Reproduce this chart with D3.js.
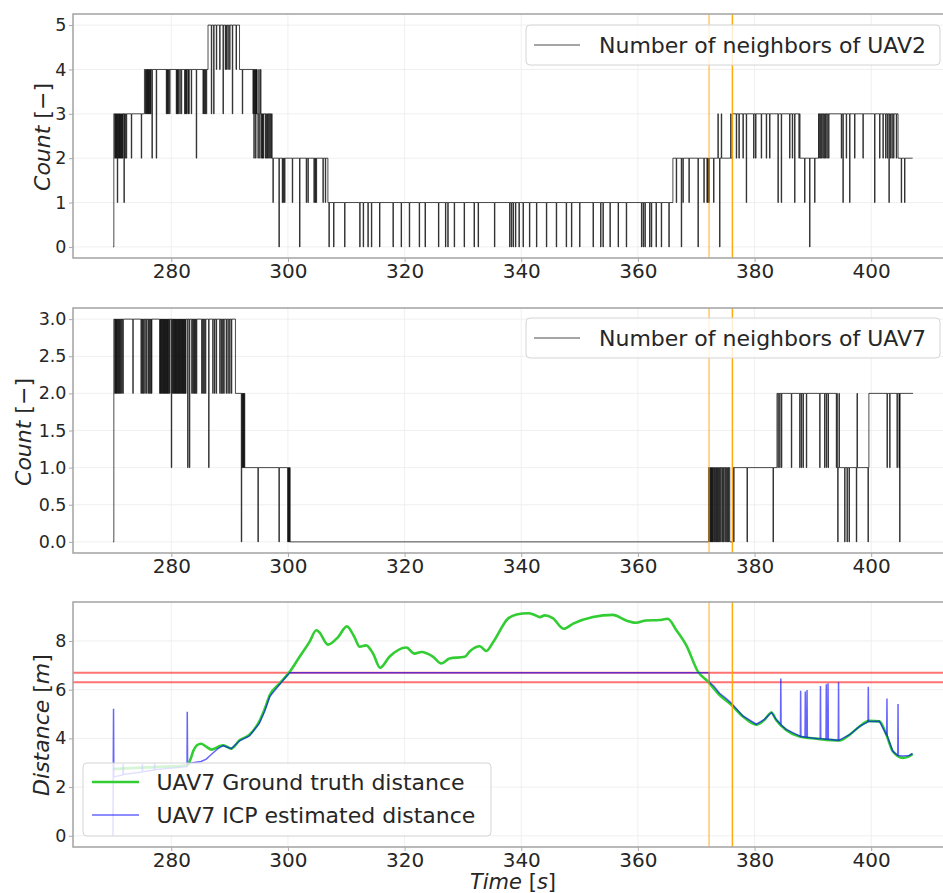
<!DOCTYPE html>
<html>
<head>
<meta charset="utf-8">
<script src="https://cdn.jsdelivr.net/npm/d3@7"></script>
<style>
  html, body { margin: 0; padding: 0; background: #fff; }
  svg { display: block; font-family: "DejaVu Sans", sans-serif; }
</style>
</head>
<body>
<svg id="chart" width="943" height="893"></svg>
<script>
// ---------- data ----------
const xTicks = [280, 300, 320, 340, 360, 380, 400];
const uav2YTicks = [0, 1, 2, 3, 4, 5];
const uav7YTicks = [0, 0.5, 1, 1.5, 2, 2.5, 3];
const distYTicks = [0, 2, 4, 6, 8];
const markerTimes = [372.2, 376.2];
const distThresholds = [6.3, 6.7];

const uav2Label = "Number of neighbors of UAV2";
const uav7Label = "Number of neighbors of UAV7";
const gtLabel = "UAV7 Ground truth distance";
const icpLabel = "UAV7 ICP estimated distance";

// neighbour count plateaus: [time s, count] from which the count holds
const uav2Levels = [[270.0,0],[270.15,3],[275.4,4],[286.3,5],[291.7,4],[294.7,3],[297.3,2],[306.85,1],
  [366.0,2],[376.2,3],[387.8,2],[391.1,3],[404.6,2]];
const uav2End = 407.1;
// single-sample excursions away from the plateau: [time s, count]
const uav2Spikes = [
  [270.3,2],[270.45,2],[270.6,2],[270.74,1],[270.9,2],[271.05,2],[271.2,2],[271.35,2],[271.5,2],[271.65,2],
  [271.88,1],[272.05,2],[272.28,2],[273.14,2],[274.85,2],
  [275.55,3],[275.7,3],[275.85,3],[276.0,3],[276.15,3],[276.3,3],[276.45,3],[276.68,2],[277.42,2],
  [279.14,3],[279.3,3],[279.45,3],[279.71,3],[280.85,3],[281.0,3],[281.15,3],[281.45,3],[281.71,3],
  [282.28,3],[282.45,3],[282.6,3],[282.85,3],[283.0,3],[283.42,3],[284.28,2],[285.43,3],[285.6,3],[285.8,3],[286.0,3],
  [286.86,3],[287.26,3],[287.72,4],[288.29,4],[288.86,3],[289.25,4],[289.43,4],[289.7,4],[290.0,4],[290.46,3],[291.1,4],
  [292.17,3],[294.0,3],[294.15,2],[294.3,3],[294.45,2],[294.6,3],
  [294.85,2],[295.0,4],[295.15,2],[295.3,4],[295.45,2],[295.6,2],[295.75,2],[296.1,2],[296.3,2],[296.5,2],[296.7,2],[296.9,2],[297.1,2],
  [297.42,1],[298.45,0],[299.02,1],[299.2,1],[299.42,1],[300.74,1],[301.99,0],[303.13,1],[303.42,1],
  [304.45,1],[304.65,1],[304.84,1],[305.99,1],[306.4,1],
  [307.02,0],[307.82,0],[309.71,0],[312.3,0],[312.9,0],[313.7,0],[314.3,0],[315.7,0],[318.0,0],[319.4,0],
  [320.8,0],[322.5,0],[323.5,0],[325.8,0],[327.0,0],[327.4,0],[328.5,0],[330.2,0],[331.9,0],[332.6,0],
  [335.4,0],[338.0,0],[338.3,0],[338.6,0],[339.0,0],[339.6,0],[340.3,0],[341.4,0],[342.6,0],[344.3,0],
  [346.0,0],[347.7,0],[348.6,0],[350.0,0],[352.3,0],[353.6,0],[354.0,0],[355.2,0],[356.6,0],[358.0,0],
  [360.6,0],[360.9,0],[361.2,0],[362.0,0],[362.3,0],[363.1,0],[364.0,0],[365.3,0],
  [366.57,1],[367.43,0],[367.71,1],[368.74,1],[370.29,0],[371.3,1],[371.83,1],[372.0,1],[372.17,1],[372.97,1],
  [373.71,3],[374.0,0],[374.29,3],[375.9,3],
  [376.86,2],[377.31,2],[378.0,2],[378.57,1],[379.83,2],[380.17,2],[381.14,2],[382.0,2],[382.57,2],
  [384.0,1],[384.57,1],[386.0,2],[386.46,2],[386.86,1],[387.6,2],
  [388.57,1],[389.43,0],[390.29,1],[390.97,3],
  [391.26,2],[391.49,2],[391.71,2],[391.94,2],[392.17,2],[392.4,2],[392.69,2],[394.86,2],[395.14,1],
  [395.71,2],[396.29,1],[397.14,2],[398.57,2],[400.57,1],[401.43,2],[402.0,2],[402.46,2],[402.74,2],
  [403.03,1],[403.26,2],[403.54,2],[403.83,2],[404.29,2],
  [405.14,1],[405.71,1]
];

const uav7Levels = [[270.0,0],[270.15,3],[291.0,2],[292.6,1],[300.35,0],[372.1,1],[375.75,0],[376.3,1],
  [383.84,2],[394.2,1],[399.6,2]];
const uav7End = 407.16;
const uav7Spikes = [
  [270.3,2],[270.45,2],[270.6,2],[270.75,2],[270.95,2],[271.1,2],[271.3,2],[271.5,2],[271.7,2],
  [273.4,2],
  [274.8,2],[275.0,2],[275.2,2],[275.45,2],[275.7,2],[276.0,2],[276.2,2],[276.45,2],[276.6,2],
  [278.0,2],[278.15,2],[278.3,2],[278.45,2],[278.6,2],[278.75,2],[278.9,2],[279.05,2],[279.2,2],[279.35,2],[279.5,2],[279.7,2],
  [280.0,1],
  [280.2,2],[280.35,2],[280.5,2],[280.65,2],[280.8,2],[280.95,2],[281.1,2],[281.25,2],[281.4,2],[281.55,2],
  [281.7,2],[281.85,2],[282.0,2],[282.15,2],[282.3,2],[282.45,2],
  [282.8,1],[283.1,1],
  [283.5,2],[283.7,2],[283.9,2],[284.1,2],[284.3,2],
  [285.2,2],[285.4,2],[285.6,2],[285.85,2],
  [286.4,1],
  [287.1,2],[287.4,2],[287.7,2],[288.3,2],[288.55,2],[288.8,2],[289.0,2],[289.4,2],[289.7,2],[290.0,2],[290.3,2],
  [292.0,0],[292.17,1],[292.3,1],[292.45,1],
  [294.85,0],[298.45,0],[299.95,0],[300.1,0],[300.25,0],
  [372.25,0],[372.4,0],[372.55,0],[372.7,0],[372.85,0],[373.05,0],[373.25,0],[373.45,0],[373.6,0],
  [373.8,0],[374.0,0],[374.2,0],[374.45,0],[374.65,0],[374.9,0],[375.1,0],[375.35,0],[375.55,0],
  [376.41,0],[378.7,0],[383.16,0],
  [384.0,1],[384.3,1],[384.6,1],[386.3,1],[387.73,1],[388.0,1],[388.3,1],[388.87,1],[391.16,1],
  [392.0,1],[392.3,1],[392.6,1],[394.01,1],
  [394.25,0],[394.47,2],[395.44,0],[395.84,0],[396.19,0],[397.44,0],[397.56,2],[399.44,0],
  [402.7,1],[403.16,1],[404.41,1],[404.76,1],[404.87,0]
];

// distance between the UAVs: [time s, metres]
const gtDistance = [
  [270.0,2.74],[273.0,2.78],[276.0,2.81],[279.0,2.84],[282.8,2.9],[283.3,3.15],[283.8,3.5],[284.4,3.72],
  [285.1,3.78],[286.0,3.66],[286.9,3.54],[288.0,3.65],[288.9,3.72],[290.3,3.58],[291.7,3.92],[293.4,4.15],
  [295.1,4.7],[296.0,5.2],[296.9,5.78],[298.6,6.26],[300.3,6.73],[302.0,7.35],[303.7,7.96],[304.85,8.44],
  [305.3,8.38],[306.85,7.85],[308.6,8.16],[310.1,8.6],[311.4,8.16],[312.3,7.76],[313.4,7.82],[314.6,7.48],
  [315.8,6.9],[317.4,7.35],[320.3,7.73],[321.7,7.48],[322.9,7.55],[324.9,7.35],[326.3,7.08],[327.7,7.28],
  [330.3,7.35],[331.2,7.58],[332.9,7.78],[334.0,7.59],[335.2,7.96],[337.7,8.91],[339.2,9.09],[341.2,9.14],
  [342.3,9.07],[343.2,8.98],[344.0,9.05],[345.4,8.94],[347.3,8.5],[348.9,8.71],[352.3,8.98],[355.7,9.07],
  [358.0,8.84],[359.7,8.75],[361.4,8.84],[363.7,8.86],[365.1,8.91],[366.6,8.44],[368.3,7.82],[370.3,6.74],
  [372.0,6.33],[374.0,5.78],[376.0,5.38],[378.0,4.9],[380.3,4.56],[381.7,4.76],[382.9,5.06],[383.7,4.76],
  [385.4,4.35],[387.7,4.08],[390.6,3.99],[394.6,3.91],[396.3,4.15],[398.0,4.49],[399.7,4.72],[401.4,4.7],
  [402.6,4.15],[403.7,3.47],[405.4,3.2],[406.3,3.24],[407.1,3.36]
];

const icpDistance = [
  [270.0,0.0],[270.1,5.22],[270.15,2.42],[271.7,2.5],[271.75,2.95],[271.8,2.52],[275.0,2.62],[275.05,2.95],
  [275.1,2.63],[277.1,2.7],[277.15,2.98],[277.2,2.71],[282.7,2.84],[282.74,5.09],[282.8,2.95],[283.7,3.0],
  [285.1,3.05],[286.0,3.15],[286.9,3.35],[288.0,3.58],[288.9,3.7],[290.3,3.58],[291.7,3.9],[293.4,4.1],
  [295.1,4.62],[296.0,5.1],[296.9,5.72],[298.6,6.22],[300.3,6.7],[372.2,6.7],[372.25,6.3],[373.0,6.15],
  [374.0,5.85],[375.2,5.62],[376.0,5.45],[378.0,4.92],[380.3,4.58],[381.7,4.78],[382.9,5.06],[383.7,4.78],
  [384.45,4.58],[384.5,6.46],[384.55,4.55],[385.4,4.37],[387.7,4.1],[387.85,4.08],[387.9,5.96],[387.95,4.08],
  [388.65,4.05],[388.7,5.92],[388.75,4.05],[388.95,4.04],[389.0,5.99],[389.05,4.04],[390.6,4.0],[391.25,3.99],
  [391.3,6.15],[391.35,3.99],[392.25,3.97],[392.3,6.22],[392.35,3.97],[392.55,3.96],[392.6,6.26],[392.65,3.96],
  [394.35,3.92],[394.4,6.3],[394.45,3.92],[396.3,4.15],[398.0,4.49],[399.45,4.68],[399.5,6.12],[399.55,4.69],
  [401.4,4.7],[402.6,4.15],[402.65,4.12],[402.7,5.64],[402.75,4.1],[403.7,3.47],[404.55,3.3],[404.6,5.41],
  [404.65,3.3],[405.4,3.28],[406.5,3.3],[407.1,3.38]
];

// ---------- helpers ----------
// merge plateaus and one-sample excursions into a step sequence
function stepSeries(levels, spikes, end, dt = 0.08) {
  const levelAt = t => {
    let v = levels[0][1];
    for (const [lt, lv] of levels) if (lt <= t) v = lv;
    return v;
  };
  const pts = levels.map(d => [d[0], d[1]]);
  spikes.forEach(([t, v]) => {
    pts.push([t, v]);
    pts.push([t + dt, levelAt(t + dt)]);
  });
  pts.sort((a, b) => a[0] - b[0]);
  pts.push([end, levelAt(end)]);
  return pts;
}

const svg = d3.select("#chart");
svg.append("rect").attr("width", 943).attr("height", 893).attr("fill", "#fff");

const plotLeft = 73, plotRight = 952;
const x = d3.scaleLinear().domain([263.15, 413.85]).range([plotLeft, plotRight]);

const spineColor = "#a8a8a8";
const gridColor = "#ececec";
const textColor = "#262626";

function makePanel(id, top, bottom, yDomain, yTicks, yFmt) {
  const y = d3.scaleLinear().domain(yDomain).range([bottom, top]);
  const g = svg.append("g");
  svg.append("defs").append("clipPath").attr("id", "clip-" + id)
    .append("rect").attr("x", plotLeft).attr("y", top)
    .attr("width", plotRight - plotLeft).attr("height", bottom - top);

  // grid
  const grid = g.append("g");
  grid.selectAll("line.gx").data(xTicks).join("line")
    .attr("x1", d => x(d)).attr("x2", d => x(d)).attr("y1", top).attr("y2", bottom)
    .attr("stroke", gridColor).attr("stroke-width", 0.8);
  grid.selectAll("line.gy").data(yTicks).join("line")
    .attr("x1", plotLeft).attr("x2", plotRight).attr("y1", d => y(d)).attr("y2", d => y(d))
    .attr("stroke", gridColor).attr("stroke-width", 0.8);

  const plot = g.append("g").attr("clip-path", `url(#clip-${id})`);

  // axes
  const xAxis = g.append("g").attr("transform", `translate(0,${bottom})`)
    .call(d3.axisBottom(x).tickValues(xTicks).tickSize(4).tickPadding(2).tickFormat(d3.format("d")));
  xAxis.select(".domain").remove();
  xAxis.selectAll("line").attr("stroke", spineColor);
  xAxis.selectAll("text").attr("fill", textColor).attr("font-size", 20)
    .attr("font-family", "DejaVu Sans");

  const yAxis = g.append("g").attr("transform", `translate(${plotLeft},0)`)
    .call(d3.axisLeft(y).tickValues(yTicks).tickSize(4).tickPadding(2.5).tickFormat(yFmt));
  yAxis.select(".domain").remove();
  yAxis.selectAll("line").attr("stroke", spineColor);
  yAxis.selectAll("text").attr("fill", textColor).attr("font-size", 17.5)
    .attr("font-family", "DejaVu Sans");

  return { g, plot, y, top, bottom };
}

function drawSpines(p) {
  p.g.append("rect").attr("x", plotLeft).attr("y", p.top)
    .attr("width", plotRight - plotLeft).attr("height", p.bottom - p.top)
    .attr("fill", "none").attr("stroke", spineColor).attr("stroke-width", 1.6);
}

function drawMarkers(p) {
  p.plot.selectAll("line.marker").data(markerTimes).join("line")
    .attr("x1", d => x(d)).attr("x2", d => x(d)).attr("y1", p.top).attr("y2", p.bottom)
    .attr("stroke", "orange").attr("stroke-width", 1.5)
    .attr("stroke-opacity", (d, i) => i === 0 ? 0.6 : 0.95);
}

function yLabel(cx, cy, parts) {
  const t = svg.append("text")
    .attr("transform", `translate(${cx},${cy}) rotate(-90)`)
    .attr("text-anchor", "middle").attr("dominant-baseline", "central")
    .attr("font-size", 22).attr("fill", textColor);
  parts.forEach(([s, it]) => t.append("tspan").text(s).attr("font-style", it ? "italic" : "normal"));
}

function countLegend(p, label, boxTop) {
  const lg = p.g.append("g");
  lg.append("rect").attr("x", 526).attr("y", boxTop).attr("width", 414).attr("height", 40)
    .attr("rx", 4).attr("fill", "#fff").attr("fill-opacity", 0.8)
    .attr("stroke", "#d4d4d4").attr("stroke-width", 1);
  lg.append("line").attr("x1", 534).attr("x2", 580).attr("y1", boxTop + 20).attr("y2", boxTop + 20)
    .attr("stroke", "#000").attr("stroke-opacity", 0.7).attr("stroke-width", 1);
  lg.append("text").attr("x", 599).attr("y", boxTop + 20).attr("dominant-baseline", "central")
    .attr("font-size", 22).attr("fill", textColor).text(label);
}

const stepLine = y => d3.line().x(d => x(d[0])).y(d => y(d[1])).curve(d3.curveStepAfter);

// ---------- panel 1: UAV2 neighbours ----------
const p1 = makePanel("p1", 14, 258, [-0.25, 5.25], uav2YTicks, d3.format("d"));
p1.plot.append("path").datum(stepSeries(uav2Levels, uav2Spikes, uav2End))
  .attr("d", stepLine(p1.y)).attr("fill", "none")
  .attr("stroke", "#000").attr("stroke-opacity", 0.7).attr("stroke-width", 1);
drawMarkers(p1);
drawSpines(p1);
countLegend(p1, uav2Label, 25);
yLabel(42, 137, [["Count", true], [" [\u2212]", false]]);

// ---------- panel 2: UAV7 neighbours ----------
const p2 = makePanel("p2", 308, 553, [-0.15, 3.15], uav7YTicks, d3.format(".1f"));
p2.plot.append("path").datum(stepSeries(uav7Levels, uav7Spikes, uav7End))
  .attr("d", stepLine(p2.y)).attr("fill", "none")
  .attr("stroke", "#000").attr("stroke-opacity", 0.7).attr("stroke-width", 1);
drawMarkers(p2);
drawSpines(p2);
countLegend(p2, uav7Label, 318);
yLabel(23, 432, [["Count", true], [" [\u2212]", false]]);

// ---------- panel 3: distance ----------
const p3 = makePanel("p3", 602, 847, [-0.46, 9.6], distYTicks, d3.format("d"));
p3.plot.selectAll("line.thr").data(distThresholds).join("line")
  .attr("x1", plotLeft).attr("x2", plotRight).attr("y1", d => p3.y(d)).attr("y2", d => p3.y(d))
  .attr("stroke", "red").attr("stroke-opacity", 0.55).attr("stroke-width", 2);
const distLine = d3.line().x(d => x(d[0])).y(d => p3.y(d[1]));
p3.plot.append("path").datum(gtDistance).attr("d", distLine.curve(d3.curveMonotoneX))
  .attr("fill", "none").attr("stroke", "#32cd32").attr("stroke-width", 2.6)
  .attr("stroke-linejoin", "round");
p3.plot.append("path").datum(icpDistance).attr("d", d3.line().x(d => x(d[0])).y(d => p3.y(d[1])))
  .attr("fill", "none").attr("stroke", "blue").attr("stroke-opacity", 0.6).attr("stroke-width", 1.5);
drawMarkers(p3);
drawSpines(p3);

// legend
const lg3 = p3.g.append("g");
lg3.append("rect").attr("x", 83).attr("y", 763).attr("width", 408).attr("height", 73)
  .attr("rx", 4).attr("fill", "#fff").attr("fill-opacity", 0.8)
  .attr("stroke", "#d4d4d4").attr("stroke-width", 1);
lg3.append("line").attr("x1", 92).attr("x2", 139).attr("y1", 782).attr("y2", 782)
  .attr("stroke", "#32cd32").attr("stroke-width", 2.6);
lg3.append("text").attr("x", 156.5).attr("y", 782).attr("dominant-baseline", "central")
  .attr("font-size", 22).attr("fill", textColor).text(gtLabel);
lg3.append("line").attr("x1", 92).attr("x2", 139).attr("y1", 815).attr("y2", 815)
  .attr("stroke", "blue").attr("stroke-opacity", 0.6).attr("stroke-width", 1.5);
lg3.append("text").attr("x", 156.5).attr("y", 815).attr("dominant-baseline", "central")
  .attr("font-size", 22).attr("fill", textColor).text(icpLabel);

yLabel(41, 725, [["Distance", true], [" [", false], ["m", true], ["]", false]]);

// x label
const xl = svg.append("text").attr("x", 513).attr("y", 889).attr("text-anchor", "middle")
  .attr("font-size", 21).attr("fill", textColor);
xl.append("tspan").text("Time").attr("font-style", "italic");
xl.append("tspan").text(" [");
xl.append("tspan").text("s").attr("font-style", "italic");
xl.append("tspan").text("]");
</script>
</body>
</html>
